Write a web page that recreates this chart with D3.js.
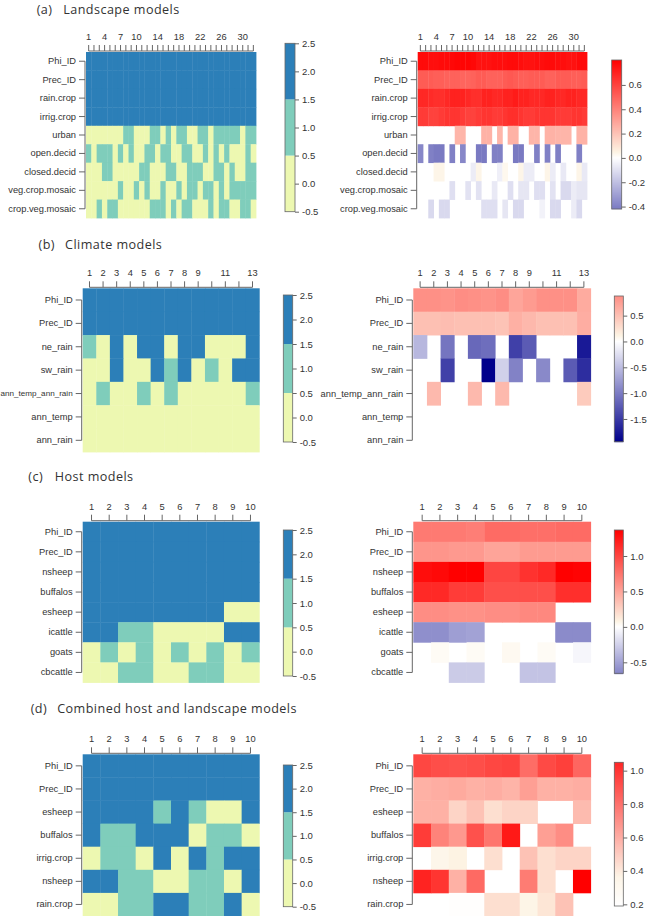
<!DOCTYPE html>
<html>
<head>
<meta charset="utf-8">
<script src="https://cdn.jsdelivr.net/npm/d3@7"></script>
<style>
body { margin: 0; background: #fff; }
svg text { font-family: "Liberation Sans", Arial, sans-serif; fill: #333; }
</style>
</head>
<body>
<svg width="649" height="916"></svg>
<script>
// ---------- (a) Landscape models: 32 models ----------
var modelsA = [1,2,3,4,5,6,7,8,9,10,11,12,13,14,15,16,17,18,19,20,21,22,23,24,25,26,27,28,29,30,31,32];
var tickLabelsA = [1,4,7,10,14,18,22,26,30];
var rowsA = ["Phi_ID","Prec_ID","rain.crop","irrig.crop","urban","open.decid","closed.decid","veg.crop.mosaic","crop.veg.mosaic"];
var inclA = [
  [2,2,2,2,2,2,2,2,2,2,2,2,2,2,2,2,2,2,2,2,2,2,2,2,2,2,2,2,2,2,2,2],
  [2,2,2,2,2,2,2,2,2,2,2,2,2,2,2,2,2,2,2,2,2,2,2,2,2,2,2,2,2,2,2,2],
  [2,2,2,2,2,2,2,2,2,2,2,2,2,2,2,2,2,2,2,2,2,2,2,2,2,2,2,2,2,2,2,2],
  [2,2,2,2,2,2,2,2,2,2,2,2,2,2,2,2,2,2,2,2,2,2,2,2,2,2,2,2,2,2,2,2],
  [0,0,0,0,0,0,0,1,1,0,0,0,1,1,0,1,0,1,1,0,0,1,1,0,1,1,1,1,1,0,1,1],
  [1,0,1,1,1,0,1,0,1,0,0,1,1,0,1,1,0,0,1,1,0,0,1,0,1,0,1,0,0,0,1,0],
  [0,0,0,1,1,0,0,0,0,0,1,1,0,0,0,1,1,0,0,1,1,1,0,0,1,1,0,1,0,0,1,1],
  [0,0,0,0,0,0,1,0,0,1,0,1,0,0,1,0,0,1,0,1,1,0,1,1,0,1,0,1,1,1,1,1],
  [0,0,1,0,1,1,0,0,0,0,0,0,1,1,1,0,1,0,1,1,0,0,0,1,0,1,1,0,0,1,1,0]
];
var coefA = [
  [0.77,0.77,0.76,0.76,0.77,0.77,0.78,0.79,0.79,0.79,0.78,0.75,0.75,0.75,0.76,0.76,0.76,0.77,0.77,0.76,0.75,0.75,0.76,0.76,0.77,0.77,0.76,0.76,0.75,0.75,0.77,0.77],
  [0.52,0.52,0.52,0.51,0.51,0.5,0.5,0.5,0.49,0.49,0.5,0.52,0.52,0.5,0.5,0.5,0.52,0.53,0.52,0.51,0.51,0.52,0.52,0.52,0.5,0.5,0.52,0.52,0.52,0.51,0.51,0.52],
  [0.68,0.68,0.67,0.66,0.66,0.68,0.7,0.7,0.7,0.68,0.66,0.66,0.7,0.7,0.68,0.68,0.7,0.7,0.72,0.7,0.7,0.68,0.68,0.68,0.7,0.7,0.68,0.68,0.7,0.7,0.68,0.68],
  [0.62,0.62,0.6,0.6,0.62,0.64,0.64,0.64,0.62,0.6,0.6,0.62,0.64,0.64,0.62,0.62,0.64,0.66,0.66,0.64,0.62,0.62,0.64,0.64,0.64,0.64,0.62,0.62,0.62,0.64,0.64,0.62],
  [null,null,null,null,null,null,null,0.24,0.24,null,null,null,0.25,0.25,null,0.24,null,0.25,0.25,null,null,0.24,0.24,null,0.25,0.25,0.24,0.24,0.24,null,0.25,0.25],
  [-0.38,null,-0.4,-0.42,-0.42,null,-0.4,null,-0.38,null,null,-0.42,-0.42,null,-0.4,-0.4,null,null,-0.42,-0.42,null,null,-0.4,null,-0.4,null,-0.4,null,null,null,-0.4,null],
  [null,null,null,0.04,0.04,null,null,null,null,null,-0.06,0.04,null,null,null,-0.05,0.03,null,null,0.04,-0.06,-0.06,null,null,0.04,-0.06,null,-0.07,null,null,0.04,-0.07],
  [null,null,null,null,null,null,-0.1,null,null,-0.09,null,-0.09,null,null,-0.07,null,null,-0.1,null,-0.08,-0.08,null,-0.1,-0.1,null,-0.09,null,-0.12,-0.12,-0.06,-0.08,-0.08],
  [null,null,-0.12,null,-0.12,-0.12,null,null,null,null,null,null,-0.1,-0.1,-0.1,null,-0.08,null,-0.12,-0.12,null,null,null,-0.04,null,-0.12,-0.12,null,null,-0.06,-0.12,null]
];

// ---------- (b) Climate models: 13 models ----------
var modelsB = [1,2,3,4,5,6,7,8,9,10,11,12,13];
var tickLabelsB = [1,2,3,4,5,6,7,8,9,11,13];
var rowsB = ["Phi_ID","Prec_ID","ne_rain","sw_rain","ann_temp_ann_rain","ann_temp","ann_rain"];
var inclB = [
  [2,2,2,2,2,2,2,2,2,2,2,2,2],
  [2,2,2,2,2,2,2,2,2,2,2,2,2],
  [1,0,2,0,2,2,0,2,2,0,0,0,2],
  [0,0,2,0,0,2,1,2,0,1,0,2,2],
  [0,1,0,0,1,0,1,0,0,0,0,0,1],
  [0,0,0,0,0,0,0,0,0,0,0,0,0],
  [0,0,0,0,0,0,0,0,0,0,0,0,0]
];
var coefB = [
  [0.86,0.86,0.84,0.88,0.86,0.84,0.88,0.7,0.78,0.86,0.86,0.86,0.66],
  [0.5,0.5,0.52,0.5,0.5,0.5,0.48,0.62,0.56,0.5,0.5,0.5,0.64],
  [-0.55,null,-1.05,null,-1.15,-1.1,null,-1.45,-1.25,null,null,null,-1.75],
  [null,null,-1.45,null,null,-1.94,-0.35,-0.95,null,-0.9,null,-1.25,-1.6],
  [null,0.55,null,null,0.55,null,0.55,null,null,null,null,null,0.42],
  [null,null,null,null,null,null,null,null,null,null,null,null,null],
  [null,null,null,null,null,null,null,null,null,null,null,null,null]
];

// ---------- (c) Host models: 10 models ----------
var modelsC = [1,2,3,4,5,6,7,8,9,10];
var rowsC = ["Phi_ID","Prec_ID","nsheep","buffalos","esheep","icattle","goats","cbcattle"];
var inclC = [
  [2,2,2,2,2,2,2,2,2,2],
  [2,2,2,2,2,2,2,2,2,2],
  [2,2,2,2,2,2,2,2,2,2],
  [2,2,2,2,2,2,2,2,2,2],
  [2,2,2,2,2,2,2,2,0,0],
  [2,2,1,1,0,0,0,0,2,2],
  [0,1,0,1,0,1,0,1,0,1],
  [0,0,1,1,0,0,1,1,0,0]
];
var coefC = [
  [0.72,0.72,0.72,0.7,0.8,0.8,0.78,0.78,0.8,0.8],
  [0.58,0.58,0.56,0.56,0.5,0.5,0.55,0.55,0.55,0.55],
  [1.3,1.32,1.37,1.37,1.0,1.0,1.1,1.15,1.37,1.35],
  [1.15,1.15,1.05,1.05,0.95,0.95,0.95,0.95,1.12,1.12],
  [0.62,0.62,0.6,0.6,0.62,0.62,0.65,0.65,null,null],
  [-0.6,-0.6,-0.52,-0.5,null,null,null,null,-0.62,-0.62],
  [null,0.03,null,0.03,null,0.04,null,0.03,null,-0.05],
  [null,null,-0.28,-0.28,null,null,-0.32,-0.32,null,null]
];

// ---------- (d) Combined host and landscape models: 10 models ----------
var modelsD = [1,2,3,4,5,6,7,8,9,10];
var rowsD = ["Phi_ID","Prec_ID","esheep","buffalos","irrig.crop","nsheep","rain.crop"];
var inclD = [
  [2,2,2,2,2,2,2,2,2,2],
  [2,2,2,2,2,2,2,2,2,2],
  [2,2,2,2,1,2,1,0,0,2],
  [2,1,1,2,2,2,0,1,1,0],
  [0,1,1,0,2,0,2,1,2,2],
  [2,2,1,1,0,0,1,1,0,2],
  [0,0,1,1,2,2,1,1,2,0]
];
var coefD = [
  [0.85,0.83,0.82,0.83,0.85,0.86,0.74,0.84,0.87,0.76],
  [0.55,0.56,0.57,0.55,0.56,0.54,0.6,0.55,0.55,0.56],
  [0.55,0.55,0.45,0.5,0.42,0.45,0.45,null,null,0.52],
  [0.88,0.68,0.62,0.82,0.72,0.98,null,0.6,0.65,null],
  [null,0.32,0.36,null,0.42,null,0.5,0.42,0.45,0.45],
  [0.95,0.9,0.55,0.75,null,null,0.7,0.42,null,1.05],
  [null,null,0.2,0.2,0.42,0.42,0.34,0.4,0.5,null]
];

// colour bar ranges / ticks
var classTicks = [2.5,2.0,1.5,1.0,0.5,0.0,-0.5];
var classColors = ["#edf8b1","#7fcdbb","#2c7fb8"];
var rangeA = [-0.42, 0.805], ticksCoefA = [0.6,0.4,0.2,0.0,-0.2,-0.4];
var rangeB = [-1.94, 0.88],  ticksCoefB = [0.5,0.0,-0.5,-1.0,-1.5];
var rangeC = [-0.655, 1.367], ticksCoefC = [1.0,0.5,0.0,-0.5];
var rangeD = [0.19, 1.05],   ticksCoefD = [1.0,0.8,0.6,0.4,0.2];

var svg = d3.select("svg");

function coefColor(lo, hi, creamAt) {
  var pos = d3.scaleLinear().domain([0, creamAt, 1]).range(["#ffffff", "#fdf3e3", "#ff0000"]).clamp(true);
  var neg = d3.interpolateRgb("#ffffff", "#00008b");
  if (lo >= 0) return function(v) { return pos((v - lo) / (hi - lo)); };
  var m = Math.max(-lo, hi);
  return function(v) { return v >= 0 ? pos(v / m) : neg(Math.min(1, -v / m)); };
}

function drawHeat(models, tickLabels, rows, values, color, x0, x1, y0, y1) {
  var x = d3.scaleBand().domain(models).range([x0, x1]);
  var y = d3.scaleBand().domain(rows).range([y0, y1]);
  var g = svg.append("g");

  rows.forEach(function(r, i) {
    g.selectAll(null)
      .data(values[i].map(function(v, j) { return {m: models[j], v: v}; })
        .filter(function(d) { return d.v !== null; }))
      .enter().append("rect")
      .attr("x", function(d) { return x(d.m); })
      .attr("y", y(r))
      .attr("width", x.bandwidth() + 0.4)
      .attr("height", y.bandwidth() + 0.4)
      .attr("fill", function(d) { return color(d.v); });
  });

  // top axis
  var xAxis = d3.axisTop(x).tickSizeOuter(0).tickSize(6).tickPadding(5)
    .tickFormat(function(d) { return tickLabels.indexOf(d) >= 0 ? d : ""; });
  var xg = g.append("g").attr("transform", "translate(0," + (y0 - 1) + ")").call(xAxis);
  xg.select(".domain").remove();
  xg.append("line")
    .attr("x1", x(models[0]) + x.bandwidth() / 2)
    .attr("x2", x(models[models.length - 1]) + x.bandwidth() / 2)
    .attr("stroke", "#666");

  // left axis
  var yAxis = d3.axisLeft(y).tickSizeOuter(0).tickSize(6).tickPadding(3);
  var yg = g.append("g").attr("transform", "translate(" + (x0 - 1) + ",0)").call(yAxis);
  yg.select(".domain").remove();
  yg.append("line")
    .attr("y1", y(rows[0]) + y.bandwidth() / 2)
    .attr("y2", y(rows[rows.length - 1]) + y.bandwidth() / 2)
    .attr("stroke", "#666");

  g.selectAll(".tick line").attr("stroke", "#666");
  g.selectAll(".tick text").style("font-size", "9.3px").style("font-family", "'Liberation Sans', Arial, sans-serif").attr("fill", "#333");

  // a row label longer than the margin is shrunk so it stays on the page
  var avail = x0 - 10 - 0.5;
  yg.selectAll(".tick text").each(function() {
    var w = this.getComputedTextLength();
    if (w > avail) d3.select(this).style("font-size", (9.3 * avail / w) + "px");
  });
}

function drawColorBar(x0, w, yTop, yBot, domain, ticks, fillFn, discrete) {
  var s = d3.scaleLinear().domain(domain).range([yBot, yTop]);
  var g = svg.append("g");
  if (discrete) {
    classColors.forEach(function(c, i) {
      g.append("rect").attr("x", x0).attr("width", w)
        .attr("y", s(i + 0.5)).attr("height", s(i - 0.5) - s(i + 0.5))
        .attr("fill", c);
    });
  } else {
    var n = Math.ceil(yBot - yTop);
    for (var k = 0; k < n; k++) {
      var v = s.invert(yTop + k + 0.5);
      g.append("rect").attr("x", x0).attr("width", w)
        .attr("y", yTop + k).attr("height", 1.2)
        .attr("fill", fillFn(v));
    }
  }
  g.append("rect").attr("x", x0).attr("y", yTop).attr("width", w).attr("height", yBot - yTop)
    .attr("fill", "none").attr("stroke", "#666").attr("stroke-width", 0.8);
  var ax = d3.axisRight(s).tickValues(ticks).tickSize(4).tickPadding(3).tickSizeOuter(0)
    .tickFormat(function(d) { return d.toFixed(1); });
  var ag = g.append("g").attr("transform", "translate(" + (x0 + w) + ",0)").call(ax);
  ag.select(".domain").remove();
  ag.selectAll(".tick line").attr("stroke", "#666");
  ag.selectAll(".tick text").style("font-size", "9.5px").attr("fill", "#333");
}

function classColor(v) { return classColors[v]; }

function title(x, y, tag, name) {
  var t = svg.append("g").style("font-size", "12.6px").style("letter-spacing", "0.45px");
  t.append("text").attr("x", x).attr("y", y).style("font-family", "'Open Sans', sans-serif").attr("fill", "#111").text(tag);
  t.append("text").attr("x", x + 26.5).attr("y", y).style("font-family", "'Open Sans', sans-serif").attr("fill", "#111").text(name);
}

// (a)
title(36.7, 13.6, "(a)", "Landscape models");
drawHeat(modelsA, tickLabelsA, rowsA, inclA, classColor, 86, 256, 52, 218);
drawColorBar(285, 10, 43.3, 211.7, [-0.5, 2.5], classTicks, null, true);
var colA = coefColor(rangeA[0], rangeA[1], 0.06);
drawHeat(modelsA, tickLabelsA, rowsA, coefA, colA, 417.7, 587, 52, 218);
drawColorBar(611.7, 10, 60, 209, rangeA, ticksCoefA, colA, false);

// (b)
title(38.5, 249, "(b)", "Climate models");
drawHeat(modelsB, tickLabelsB, rowsB, inclB, classColor, 82.7, 259.3, 288.3, 452);
drawColorBar(283.3, 9.4, 295, 442, [-0.5, 2.5], classTicks, null, true);
var colB = coefColor(rangeB[0], rangeB[1], 0.06);
drawHeat(modelsB, tickLabelsB, rowsB, coefB, colB, 413.3, 590.7, 288.3, 452);
drawColorBar(614.3, 9, 296, 441.7, rangeB, ticksCoefB, colB, false);

// (c)
title(28.3, 481, "(c)", "Host models");
drawHeat(modelsC, modelsC, rowsC, inclC, classColor, 82.7, 259.3, 521.7, 682.5);
drawColorBar(283.3, 9.4, 530, 676, [-0.5, 2.5], classTicks, null, true);
var colC = coefColor(rangeC[0], rangeC[1], 0.06);
drawHeat(modelsC, modelsC, rowsC, coefC, colC, 413.3, 590.7, 521.7, 682.5);
drawColorBar(614.3, 9, 530, 673.3, rangeC, ticksCoefC, colC, false);

// (d)
title(30.7, 713, "(d)", "Combined host and landscape models");
drawHeat(modelsD, modelsD, rowsD, inclD, classColor, 82.7, 259.3, 754.3, 916);
drawColorBar(283.3, 9.4, 765, 906.7, [-0.5, 2.5], classTicks, null, true);
var colD = coefColor(rangeD[0], rangeD[1], 0.2);
drawHeat(modelsD, modelsD, rowsD, coefD, colD, 413.3, 590.7, 754.3, 916);
drawColorBar(614.3, 9, 762.3, 906, rangeD, ticksCoefD, colD, false);
</script>
</body>
</html>
